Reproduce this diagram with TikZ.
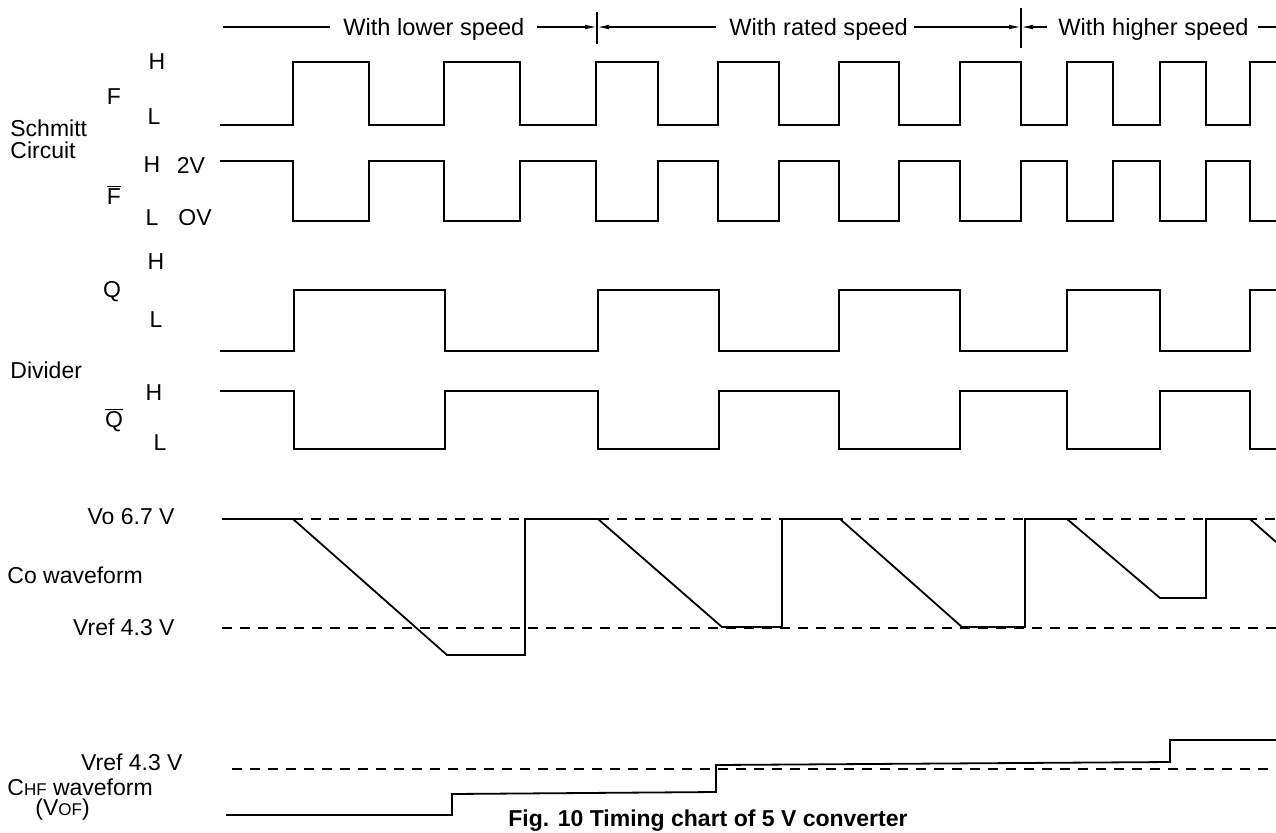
\documentclass[tikz,border=0pt]{standalone}
\usepackage{fontspec}
\setmainfont{Liberation Sans}
\usetikzlibrary{arrows.meta}
\begin{document}
\begin{tikzpicture}[x=0.5pt,y=-0.5pt,
  wave/.style={line width=0.9pt, line join=miter},
  refline/.style={line width=0.8pt, dash pattern=on 5pt off 4pt},
  lbl/.style={font=\fontsize{11.5}{13}\selectfont, inner sep=0pt},
  hdr/.style={font=\fontsize{11.8}{14}\selectfont, inner sep=0pt, anchor=base west},
  hline/.style={line width=0.7pt},
  tip/.style={-{Latex[length=6pt,width=2.4pt]}}
]
\useasboundingbox (0,0) rectangle (1276,832);
\clip (0,0) rectangle (1276,832);

% ---------- header ----------
\node[hdr] (hlow) at (343,35) {With lower speed};
\node[hdr] (hrated) at (729,35) {With rated speed};
\node[hdr] (hhigh) at (1058,35) {With higher speed};
\coordinate (a0) at (223,27);
\coordinate (a1) at (330,27);
\coordinate (b0) at (537,27);
\coordinate (m1) at (597,27);
\coordinate (b1) at (716,27);
\coordinate (c0) at (914,27);
\coordinate (m2) at (1021,27);
\coordinate (c1) at (1047,27);
\coordinate (d0) at (1258,27);
\coordinate (d1) at (1276,27);
\coordinate (t1a) at (597,12);
\coordinate (t1b) at (597,44);
\coordinate (t2a) at (1021,8);
\coordinate (t2b) at (1021,48);
\draw[hline] (a0) -- (a1);
\draw[hline,tip] (b0) -- (m1);
\draw[hline,tip] (b1) -- (m1);
\draw[hline,tip] (c0) -- (m2);
\draw[hline,tip] (c1) -- (m2);
\draw[hline] (d0) -- (d1);
\draw[hline] (t1a) -- (t1b);
\draw[hline] (t2a) -- (t2b);

% ---------- left labels ----------
\node[lbl] (fh) at (157,62) {H};
\node[lbl] (f) at (114,97) {F};
\node[lbl] (fl) at (154,117) {L};
\node[lbl,anchor=west] (sch1) at (10,128) {Schmitt};
\node[lbl,anchor=west] (sch2) at (10,150) {Circuit};
\node[lbl] (fbh) at (152,165) {H};
\node[lbl] (fb2v) at (191,165) {2V};
\node[lbl] (fb) at (114,195) {$\overline{\hbox{F}}$};
\node[lbl] (fbl) at (152,218) {L};
\node[lbl] (fb0v) at (195,218) {OV};

\node[lbl] (qh) at (156,262) {H};
\node[lbl] (q) at (112,292) {Q};
\node[lbl] (ql) at (156,320) {L};
\node[lbl,anchor=west] (div) at (10,370) {Divider};
\node[lbl] (qbh) at (154,393) {H};
\node[lbl] (qb) at (114,420) {$\overline{\hbox{Q}}$};
\node[lbl] (qbl) at (160,443) {L};

\node[lbl,anchor=east] (vo) at (175,517) {Vo 6.7 V};
\node[lbl,anchor=west] (cow) at (7,575) {Co waveform};
\node[lbl,anchor=east] (vref1) at (175,627) {Vref 4.3 V};

\node[lbl,anchor=east] (vref2) at (183,762) {Vref 4.3 V};
\node[lbl,anchor=west] (chf) at (7,787) {C{\fontsize{8.5}{10}\selectfont HF} waveform};
\node[lbl,anchor=west] (vof) at (35,810) {(V{\fontsize{8.5}{10}\selectfont OF})};

% ---------- F ----------
\draw[wave] (220,125) -| (293,62) -| (369,125) -| (444,62) -| (520,125)
  -| (596,62) -| (658,125) -| (718,62) -| (779,125) -| (839,62) -| (899,125)
  -| (960,62) -| (1021,125) -| (1067,62) -| (1113,125) -| (1160,62)
  -| (1206,125) -| (1250,62) -- (1276,62);
% ---------- F bar ----------
\draw[wave] (220,161) -| (293,221) -| (369,161) -| (444,221) -| (520,161)
  -| (596,221) -| (658,161) -| (718,221) -| (779,161) -| (839,221) -| (899,161)
  -| (960,221) -| (1021,161) -| (1067,221) -| (1113,161) -| (1160,221)
  -| (1206,161) -| (1250,221) -- (1276,221);
% ---------- Q ----------
\draw[wave] (220,351) -| (294,290) -| (445,351) -| (598,290) -| (719,351)
  -| (839,290) -| (960,351) -| (1067,290) -| (1160,351) -| (1250,290) -- (1276,290);
% ---------- Q bar ----------
\draw[wave] (220,391) -| (294,449) -| (445,391) -| (598,449) -| (719,391)
  -| (839,449) -| (960,391) -| (1067,449) -| (1160,391) -| (1250,449) -- (1276,449);

% ---------- Co waveform ----------
\coordinate (vo0) at (293,519);
\coordinate (vo1) at (1276,519);
\coordinate (vr0) at (222,628);
\coordinate (vr1) at (1276,628);
\draw[refline] (vo0) -- (vo1);
\draw[refline] (vr0) -- (vr1);
\draw[wave] (222,519) -- (293,519) -- (447,655) -- (525,655) -- (525,519)
  -- (598,519) -- (722,627) -- (782,627) -- (782,519) -- (840,519)
  -- (962,627) -- (1025,627) -- (1025,519) -- (1067,519) -- (1160,598)
  -- (1206,598) -- (1206,519) -- (1250,519) -- (1276,542);

% ---------- CHF waveform ----------
\coordinate (vr2) at (232,769);
\coordinate (vr3) at (1276,769);
\draw[refline] (vr2) -- (vr3);
\draw[wave] (226,815) -- (452,815) -- (452,794) -- (716,792) -- (716,765)
  -- (1170,762) -- (1170,740) -- (1276,740);

% ---------- caption ----------
\node[font=\bfseries\fontsize{11.5}{13}\selectfont, inner sep=0pt, anchor=base west] (cap) at (508,826) {Fig. 10 Timing chart of 5 V converter};
\end{tikzpicture}
\end{document}
